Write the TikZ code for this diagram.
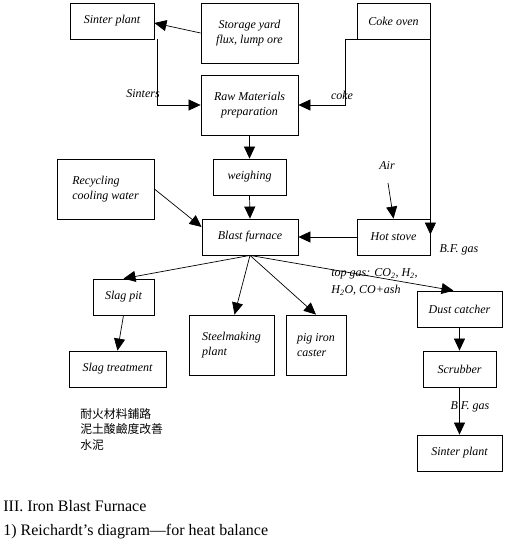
\documentclass[tikz,border=0pt]{standalone}
\usepackage{fontspec}
\setmainfont{Liberation Serif}
\newfontfamily\cjk{Noto Sans CJK TC}
\usepackage{tikz}
\usetikzlibrary{arrows.meta}

\begin{document}
\begin{tikzpicture}[x=1pt,y=-1pt,>={Triangle[length=12pt,width=11pt]},
  line width=0.7pt,
  box/.style={draw,line width=0.8pt,inner sep=2pt,align=center,font=\fontsize{12}{15}\selectfont\itshape},
  lbl/.style={inner sep=0pt,font=\fontsize{12}{15}\selectfont\itshape}]
\useasboundingbox (0,0) rectangle (521,546);
% top row
\node[box,minimum width=84pt,minimum height=36pt] (sinter) at (112,21) {Sinter plant};
\node[box,minimum width=97pt,minimum height=60pt] (store) at (249.5,33) {Storage yard\\flux, lump ore};
\node[box,minimum width=73pt,minimum height=36pt] (coke) at (393.5,21) {Coke oven};
\node[box,minimum width=97pt,minimum height=60pt] (rawmat) at (249.5,105) {Raw Materials\\preparation};
\node[box,minimum width=73pt,minimum height=36pt] (weigh) at (249.5,177) {weighing};
\node[box,minimum width=97pt,minimum height=60pt,align=left] (recycle) at (105.5,189) {Recycling\\cooling water};
\node[box,minimum width=96pt,minimum height=36pt] (bf) at (250,237) {Blast furnace};
\node[box,minimum width=73pt,minimum height=36pt] (stove) at (393.5,237) {Hot stove};
% products
\node[box,minimum width=61pt,minimum height=36pt] (slagpit) at (123.5,297) {Slag pit};
\node[box,minimum width=97pt,minimum height=36pt] (slagtreat) at (117.5,369) {Slag treatment};
\node[box,minimum width=85pt,minimum height=60pt,align=left] (steel) at (231.5,345) {Steelmaking\\plant};
\node[box,minimum width=60pt,minimum height=60pt,align=left] (pigiron) at (316,345) {pig iron\\caster};
% gas line
\node[box,minimum width=85pt,minimum height=36pt] (dust) at (459.5,309) {Dust catcher};
\node[box,minimum width=73pt,minimum height=36pt] (scrub) at (459.5,369) {Scrubber};
\node[box,minimum width=85pt,minimum height=36pt] (sinterb) at (459.5,453) {Sinter plant};

% labels
\node[lbl] (sinterslbl) at (143,94) {Sinters};
\node[lbl] (cokelbl) at (342,95) {coke};
\node[lbl] (air) at (387,166) {Air};
\node[lbl] (bfgas) at (459,250) {B.F. gas};
\node[lbl,anchor=north west,align=left,font=\fontsize{12}{17}\selectfont\itshape] (topgas) at (331,268)
  {top gas: CO\textsubscript{2}, H\textsubscript{2},\\H\textsubscript{2}O, CO+ash};
\node[lbl] (bfgas2) at (470,407) {B F. gas};
\node[anchor=north west,align=left,inner sep=0pt,font=\cjk\fontsize{11.8}{15.5}\selectfont] (uses) at (80,408)
  {耐火材料鋪路\\泥土酸鹼度改善\\水泥};
\node[anchor=north west,align=left,inner sep=0pt,font=\fontsize{16}{24}\selectfont] (title) at (3,500)
  {III. Iron Blast Furnace\\1) Reichardt’s diagram—for heat balance};

% connectors
\coordinate (airin) at (388,183);
\draw[->] (store.west) -- ([yshift=-2pt]sinter.east);
\draw[->] ([xshift=3pt]sinter.south east) |- (rawmat.west);
\draw[->] (coke.south west) -- ++(-11,0) |- (rawmat.east);
\draw[->] (coke.south east) -- ([yshift=-16pt]stove.north east);
\draw[->] (airin) -- (stove.north);
\draw[->] (rawmat.south) -- (weigh.north);
\draw[->] (weigh.south) -- (bf.north);
\draw[->] (recycle.east) -- ([yshift=10pt]bf.west);
\draw[->] (stove.west) -- (bf.east);
\draw[->] (bf.south) -- (slagpit.north);
\draw[->] (bf.south) -- ([xshift=3pt]steel.north);
\draw[->] (bf.south) -- (pigiron.north);
\draw[->] (bf.south) -- ([xshift=-6pt]dust.north);
\draw[->] (slagpit.south) -- (slagtreat.north);
\draw[->] (dust.south) -- (scrub.north);
\draw[->] (scrub.south) -- (sinterb.north);
\end{tikzpicture}
\end{document}
